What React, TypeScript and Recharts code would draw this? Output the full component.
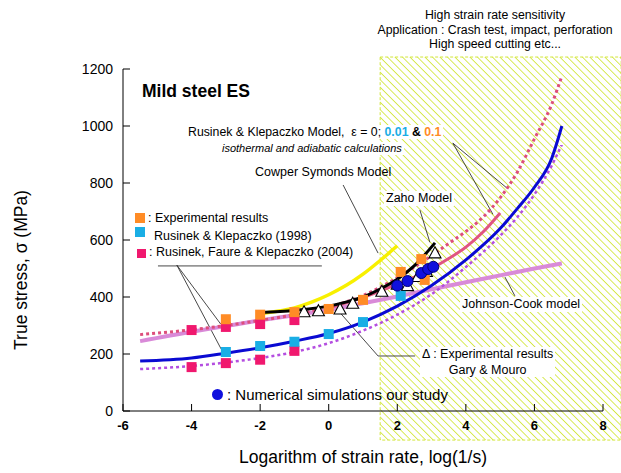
import React from "react";
import { ComposedChart, Line, Scatter, XAxis, YAxis, ReferenceArea, ReferenceLine } from "recharts";

const FONT = "'Liberation Sans', Arial, sans-serif";

// ---- axis ticks ----
const xTicks = [-6, -4, -2, 0, 2, 4, 6, 8];
const yTicks = [0, 200, 400, 600, 800, 1000, 1200];

// ---- experimental points ----
const orangeExp = [
  { x: -3, y: 322 }, { x: -2, y: 338 }, { x: -1, y: 347 }, { x: 0, y: 358 },
  { x: 1, y: 390 }, { x: 2.1, y: 488 }, { x: 2.7, y: 533 }, { x: 2.8, y: 460 },
];
const cyanRK1998 = [
  { x: -3, y: 207 }, { x: -2, y: 228 }, { x: -1, y: 243 }, { x: 0, y: 270 },
  { x: 1, y: 312 }, { x: 2.1, y: 404 },
];
const pinkUpper = [{ x: -4, y: 284 }, { x: -3, y: 295 }, { x: -2, y: 305 }, { x: -1, y: 319 }];
const pinkLower = [{ x: -4, y: 154 }, { x: -3, y: 168 }, { x: -2, y: 180 }, { x: -1, y: 211 }];
const garyMouro = [
  { x: -0.72, y: 348 }, { x: -0.3, y: 352 }, { x: 0.33, y: 358 }, { x: 0.7, y: 378 },
  { x: 1.55, y: 420 }, { x: 2.0, y: 445 }, { x: 2.3, y: 440 }, { x: 2.6, y: 472 },
  { x: 2.85, y: 490 }, { x: 3.1, y: 555 },
];
const numSim = [{ x: 2.0, y: 440 }, { x: 2.3, y: 456 }, { x: 2.7, y: 484 }, { x: 2.9, y: 498 }, { x: 3.05, y: 506 }];

// ---- model curves ----
const blueIso = [
  { x: -5.5, y: 175 }, { x: -4, y: 186 }, { x: -3, y: 203 }, { x: -2, y: 222 }, { x: -1, y: 245 },
  { x: 0, y: 272 }, { x: 1, y: 312 }, { x: 2, y: 368 }, { x: 3, y: 440 }, { x: 4, y: 530 },
  { x: 5, y: 640 }, { x: 5.5, y: 710 }, { x: 6, y: 785 }, { x: 6.5, y: 885 }, { x: 6.8, y: 1000 },
];
const purpleAdi = [
  { x: -5.5, y: 147 }, { x: -4, y: 158 }, { x: -3, y: 170 }, { x: -2, y: 186 }, { x: -1, y: 207 },
  { x: 0, y: 238 }, { x: 1, y: 282 }, { x: 2, y: 338 }, { x: 3, y: 410 }, { x: 4, y: 505 },
  { x: 5, y: 615 }, { x: 5.5, y: 680 }, { x: 6, y: 760 }, { x: 6.5, y: 860 }, { x: 6.8, y: 935 },
];
const pinkIso = [
  { x: -5.5, y: 268 }, { x: -4, y: 285 }, { x: -3, y: 300 }, { x: -2, y: 318 }, { x: -1, y: 338 },
  { x: 0, y: 365 }, { x: 1, y: 405 }, { x: 2, y: 468 }, { x: 3, y: 545 }, { x: 3.5, y: 588 },
  { x: 4, y: 630 }, { x: 4.5, y: 680 }, { x: 5, y: 748 }, { x: 5.5, y: 838 }, { x: 6, y: 955 },
  { x: 6.5, y: 1075 }, { x: 6.8, y: 1175 },
];
const pinkAdi = [
  { x: 0, y: 362 }, { x: 1, y: 398 }, { x: 2, y: 445 }, { x: 2.5, y: 470 }, { x: 3, y: 500 },
  { x: 3.5, y: 535 }, { x: 4, y: 575 }, { x: 4.5, y: 628 }, { x: 5, y: 695 },
];
const johnsonCook = [
  { x: -5.5, y: 245 }, { x: -4, y: 278 }, { x: -3, y: 298 }, { x: -2, y: 318 }, { x: -1, y: 336 },
  { x: 0, y: 355 }, { x: 1, y: 378 }, { x: 2, y: 402 }, { x: 3, y: 427 }, { x: 4, y: 452 },
  { x: 5, y: 476 }, { x: 6, y: 500 }, { x: 6.8, y: 518 },
];
const cowperSymonds = [
  { x: -2, y: 342 }, { x: -1.5, y: 350 }, { x: -1, y: 362 }, { x: -0.5, y: 382 }, { x: 0, y: 408 },
  { x: 0.5, y: 440 }, { x: 1, y: 480 }, { x: 1.5, y: 528 }, { x: 2, y: 580 },
];
const zahoModel = [
  { x: -2, y: 346 }, { x: -1, y: 353 }, { x: 0, y: 368 }, { x: 0.5, y: 382 }, { x: 1, y: 400 },
  { x: 1.5, y: 428 }, { x: 2, y: 462 }, { x: 2.5, y: 510 }, { x: 3.1, y: 590 },
];

// high strain-rate zone (data units, overflows the frame)
const zone = { x1: 1.5, x2: 8.53, y1: -102, y2: 1242 };

// leader lines (data units)
const leaders = [
  [{ x: -4.98, y: 509 }, { x: -0.2, y: 509 }],
  [{ x: -4.43, y: 512 }, { x: -3.15, y: 305 }],
  [{ x: -4.43, y: 512 }, { x: -3.14, y: 218 }],
  [{ x: 0.42, y: 793 }, { x: 1.44, y: 554 }],
  [{ x: 2.66, y: 705 }, { x: 2.95, y: 592 }],
  [{ x: 3.62, y: 940 }, { x: 5.2, y: 782 }],
  [{ x: 3.62, y: 940 }, { x: 4.79, y: 690 }],
  [{ x: 5.14, y: 470 }, { x: 5.43, y: 404 }],
  [{ x: 0.33, y: 345 }, { x: 1.44, y: 193 }],
  [{ x: 1.44, y: 193 }, { x: 2.52, y: 193 }],
];

const sq = (color: string) => (p: any) => (
  <rect x={p.cx - 5} y={p.cy - 5} width={10} height={10} fill={color} />
);
const tri = (p: any) => (
  <path d={`M${p.cx},${p.cy - 6} L${p.cx + 6},${p.cy + 5} L${p.cx - 6},${p.cy + 5} Z`} fill="#fff" stroke="#000" strokeWidth={1.1} />
);
const dotShape = (p: any) => <circle cx={p.cx} cy={p.cy} r={5.5} fill="#1010dd" stroke="#00007a" strokeWidth={1} />;

const BottomTick = (p: any) => (
  <g>
    <line x1={p.x} x2={p.x} y1={p.y} y2={p.y - 7} stroke="#000" />
    <text x={p.x} y={p.y + 19} textAnchor="middle" fontWeight="bold" fontSize={13} fontFamily={FONT} fill="#000">
      {p.payload.value}
    </text>
  </g>
);
const LeftTick = (p: any) => (
  <g>
    <line x1={p.x} x2={p.x + 7} y1={p.y} y2={p.y} stroke="#000" />
    <text x={p.x - 10} y={p.y + 5} textAnchor="end" fontSize={14} fontFamily={FONT} fill="#000">
      {p.payload.value}
    </text>
  </g>
);
const TopTick = (p: any) => <line x1={p.x} x2={p.x} y1={p.y} y2={p.y + 7} stroke="#000" />;
const RightTick = (p: any) => <line x1={p.x} x2={p.x - 7} y1={p.y} y2={p.y} stroke="#000" />;

const abs = (extra: React.CSSProperties): React.CSSProperties => ({
  position: "absolute",
  whiteSpace: "nowrap",
  fontFamily: FONT,
  color: "#000",
  lineHeight: 1,
  ...extra,
});

export default function App() {
  return (
    <div style={{ position: "absolute", left: 0, top: 0, width: 621, height: 473, background: "#fff", overflow: "hidden" }}>
      <svg width={0} height={0} style={{ position: "absolute" }}>
        <defs>
          <pattern id="hatch" width={5.3} height={5.3} patternUnits="userSpaceOnUse" patternTransform="rotate(-45)">
            <line x1={0} y1={0} x2={0} y2={5.3} stroke="#d3e63c" strokeWidth={1.7} />
          </pattern>
        </defs>
      </svg>
      <ComposedChart width={621} height={473} margin={{ top: 69, right: 18, bottom: 32, left: 83 }}>
        <XAxis
          dataKey="x" type="number" domain={[-6, 8]} ticks={xTicks} allowDataOverflow
          height={30} tickSize={0} tickMargin={0} tick={BottomTick} tickLine={false}
          axisLine={{ stroke: "#000" }}
        />
        <XAxis
          xAxisId="t" orientation="top" type="number" domain={[-6, 8]} ticks={xTicks} allowDataOverflow
          height={0} tickSize={0} tickMargin={0} tick={TopTick} tickLine={false}
          axisLine={{ stroke: "#000" }}
        />
        <YAxis
          dataKey="y" type="number" domain={[0, 1200]} ticks={yTicks} allowDataOverflow
          width={40} tickSize={0} tickMargin={0} tick={LeftTick} tickLine={false}
          axisLine={{ stroke: "#000" }}
        />
        <YAxis
          yAxisId="r" orientation="right" type="number" domain={[0, 1200]} ticks={yTicks} allowDataOverflow
          width={0} tickSize={0} tickMargin={0} tick={RightTick} tickLine={false}
          axisLine={{ stroke: "#000" }}
        />
        <ReferenceArea
          x1={zone.x1} x2={zone.x2} y1={zone.y1} y2={zone.y2} ifOverflow="visible"
          fill="url(#hatch)" fillOpacity={1} stroke="#d3e63c" strokeDasharray="3 2" strokeWidth={1}
        />
        {leaders.map((seg, i) => (
          <ReferenceLine key={i} segment={seg} stroke="#333" strokeWidth={0.9} ifOverflow="visible" />
        ))}
        <Line data={johnsonCook} dataKey="y" type="monotone" stroke="#d98ad8" strokeWidth={4} dot={false} isAnimationActive={false} />
        <Line data={purpleAdi} dataKey="y" type="monotone" stroke="#b44ee0" strokeWidth={2.5} strokeDasharray="3 3" dot={false} isAnimationActive={false} />
        <Line data={blueIso} dataKey="y" type="monotone" stroke="#0a0ad2" strokeWidth={3} dot={false} isAnimationActive={false} />
        <Line data={pinkIso} dataKey="y" type="monotone" stroke="#dd4e7c" strokeWidth={3} strokeDasharray="3 3" dot={false} isAnimationActive={false} />
        <Line data={pinkAdi} dataKey="y" type="monotone" stroke="#e05582" strokeWidth={3} dot={false} isAnimationActive={false} />
        <Line data={cowperSymonds} dataKey="y" type="monotone" stroke="#f8f000" strokeWidth={3.5} dot={false} isAnimationActive={false} />
        <Line data={zahoModel} dataKey="y" type="monotone" stroke="#000" strokeWidth={3} dot={false} isAnimationActive={false} />
        <Scatter data={garyMouro} dataKey="y" shape={tri} isAnimationActive={false} />
        <Scatter data={pinkUpper} dataKey="y" shape={sq("#f0186e")} isAnimationActive={false} />
        <Scatter data={pinkLower} dataKey="y" shape={sq("#f0186e")} isAnimationActive={false} />
        <Scatter data={cyanRK1998} dataKey="y" shape={sq("#1aaee5")} isAnimationActive={false} />
        <Scatter data={orangeExp} dataKey="y" shape={sq("#ff8c26")} isAnimationActive={false} />
        <Scatter data={numSim} dataKey="y" shape={dotShape} isAnimationActive={false} />
      </ComposedChart>

      {/* top text */}
      <div style={abs({ left: 370, top: 8, width: 250, textAlign: "center", fontSize: 12.3, lineHeight: "14.5px", background: "#fff" })}>
        High strain rate sensitivity<br />Application : Crash test, impact, perforation<br />High speed cutting etc...
      </div>
      <div style={abs({ left: 142, top: 83, fontSize: 17.5, fontWeight: "bold" })}>Mild steel ES</div>
      <div style={abs({ left: 186, top: 125, fontSize: 12.3, background: "#fff", padding: "1px 2px" })}>
        Rusinek &amp; Klepaczko Model,&nbsp; ε = 0;{" "}
        <b style={{ color: "#1aaee5" }}>0.01</b> <b>&amp;</b> <b style={{ color: "#ff8c26" }}>0.1</b>
      </div>
      <div style={abs({ left: 220, top: 142, fontSize: 11, fontStyle: "italic", background: "#fff", padding: "1px 2px" })}>
        isothermal and adiabatic calculations
      </div>
      <div style={abs({ left: 255, top: 166, fontSize: 12.5 })}>Cowper Symonds Model</div>
      <div style={abs({ left: 384, top: 191, fontSize: 12.5, background: "#fff", padding: "1px 2px" })}>Zaho Model</div>

      {/* legend */}
      <div style={abs({ left: 135, top: 213, width: 10, height: 10, background: "#ff8c26" })} />
      <div style={abs({ left: 148, top: 212, fontSize: 12.5 })}>: Experimental results</div>
      <div style={abs({ left: 135, top: 227, width: 10, height: 10, background: "#1aaee5" })} />
      <div style={abs({ left: 154, top: 230, fontSize: 12.5 })}>Rusinek &amp; Klepaczko (1998)</div>
      <div style={abs({ left: 137, top: 249, width: 9, height: 9, background: "#f0186e" })} />
      <div style={abs({ left: 149, top: 246, fontSize: 12.5 })}>: Rusinek, Faure &amp; Klepaczko (2004)</div>

      <div style={abs({ left: 460, top: 297, fontSize: 12.5, background: "#fff", padding: "1px 2px" })}>Johnson-Cook model</div>
      <div style={abs({ left: 420, top: 347, fontSize: 12.5, background: "#fff", padding: "1px 2px", textAlign: "center" })}>
        Δ : Experimental results<br /><span style={{ display: "inline-block", marginTop: 3 }}>Gary &amp; Mouro</span>
      </div>

      <div style={abs({ left: 212, top: 389, width: 11, height: 11, borderRadius: "50%", background: "#1010dd" })} />
      <div style={abs({ left: 227, top: 387, fontSize: 15 })}>: Numerical simulations our study</div>

      {/* axis titles */}
      <div style={abs({ left: 123, width: 480, top: 449, textAlign: "center", fontSize: 17.5 })}>
        Logarithm of strain rate, log(1/s)
      </div>
      <div style={abs({ left: 22, top: 270, fontSize: 17.5, transform: "translate(-50%, -50%) rotate(-90deg)" })}>
        True stress, σ (MPa)
      </div>
    </div>
  );
}
